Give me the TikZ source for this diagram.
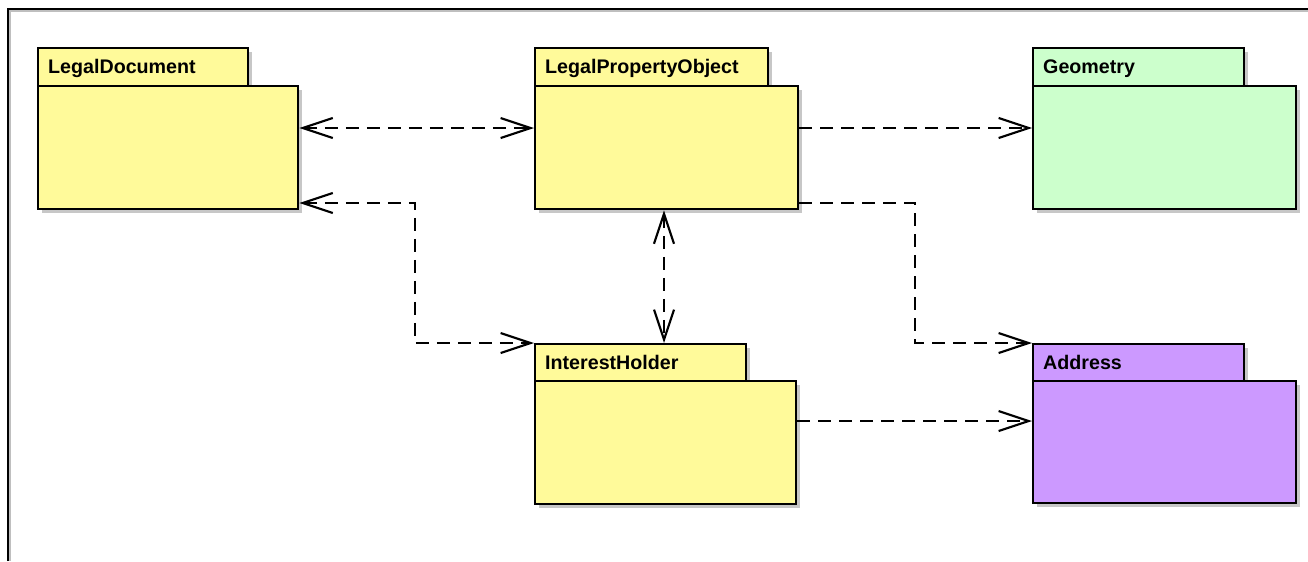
\documentclass[tikz,border=0pt]{standalone}
\usepackage{fontspec}
\setmainfont{Liberation Sans}
\usetikzlibrary{arrows.meta,calc,shadows}
\definecolor{pkgyellow}{HTML}{FFFA9A}
\definecolor{pkggreen}{HTML}{CCFFCC}
\definecolor{pkgpurple}{HTML}{CC99FF}
\tikzset{
  oarr/.tip={Straight Barb[length=22.5pt,width=15pt,line width=1.6pt]},
  pkgshape/.style={draw=black, line width=1.8pt, rectangle, inner sep=0pt, anchor=north west,
    drop shadow={shadow xshift=3pt, shadow yshift=-3pt, fill=black!22, opacity=1}},
  pkgtab/.style={pkgshape, font=\bfseries\fontsize{14.75}{16}\selectfont, align=left,
    inner xsep=7.5pt, inner ysep=0pt, text height=9.6pt, text depth=0pt},
  dep/.style={line width=1.6pt, dash pattern=on 9.75pt off 6pt},
}
\newcommand\umlpkg[9]{%
  \pgfmathsetmacro\pkgtw{(#4-#2)*0.75-15}%
  \pgfmathsetmacro\pkgth{(#5-#3)*0.75}%
  \pgfmathsetmacro\pkgbw{(#6-#2)*0.75}%
  \pgfmathsetmacro\pkgbh{(#7-#5)*0.75}%
  \node[pkgtab, fill=#9, text width=\pkgtw pt, minimum height=\pkgth pt] (#1tab) at (#2,#3) {#8};
  \node[pkgshape, fill=#9, minimum width=\pkgbw pt, minimum height=\pkgbh pt] (#1body) at (#2,#5) {};
}
\begin{document}
\begin{tikzpicture}[x=0.75pt,y=-0.75pt]
\useasboundingbox (0,0) rectangle (1308,561);
% frame
\draw[line width=1.5pt, black!25] (10,561) -- (10,11) -- (1308,11);
\draw[line width=1.8pt] (8,561) -- (8,9) -- (1308,9);
% packages
\umlpkg{ld}{37}{47}{247}{85}{297}{208}{LegalDocument}{pkgyellow}
\umlpkg{lpo}{534}{47}{767}{85}{797}{208}{LegalPropertyObject}{pkgyellow}
\umlpkg{geo}{1032}{47}{1243}{85}{1295}{208}{Geometry}{pkggreen}
\umlpkg{ih}{534}{343}{745}{380}{795}{503}{InterestHolder}{pkgyellow}
\umlpkg{addr}{1032}{343}{1243}{380}{1295}{502}{Address}{pkgpurple}
% bend points
\coordinate (b1) at (415,203);
\coordinate (b2) at (915,203);
% connectors
\draw[dep, oarr-oarr] ($(ldbody.north east)+(0,43)$) -- ($(lpobody.north west)+(0,43)$);
\draw[dep, oarr-oarr] ($(ldbody.north east)+(0,118)$) -- (b1) |- (ihtab.north west);
\draw[dep, oarr-oarr] ($(lpobody.south west)+(130,0)$) -- ($(ihtab.north west)+(130,0)$);
\draw[dep, -oarr] ($(lpobody.north east)+(0,43)$) -- ($(geobody.north west)+(0,43)$);
\draw[dep, -oarr] ($(lpobody.north east)+(0,118)$) -- (b2) |- (addrtab.north west);
\draw[dep, -oarr] ($(ihbody.north east)+(0,41)$) -- ($(addrbody.north west)+(0,41)$);
\end{tikzpicture}
\end{document}
